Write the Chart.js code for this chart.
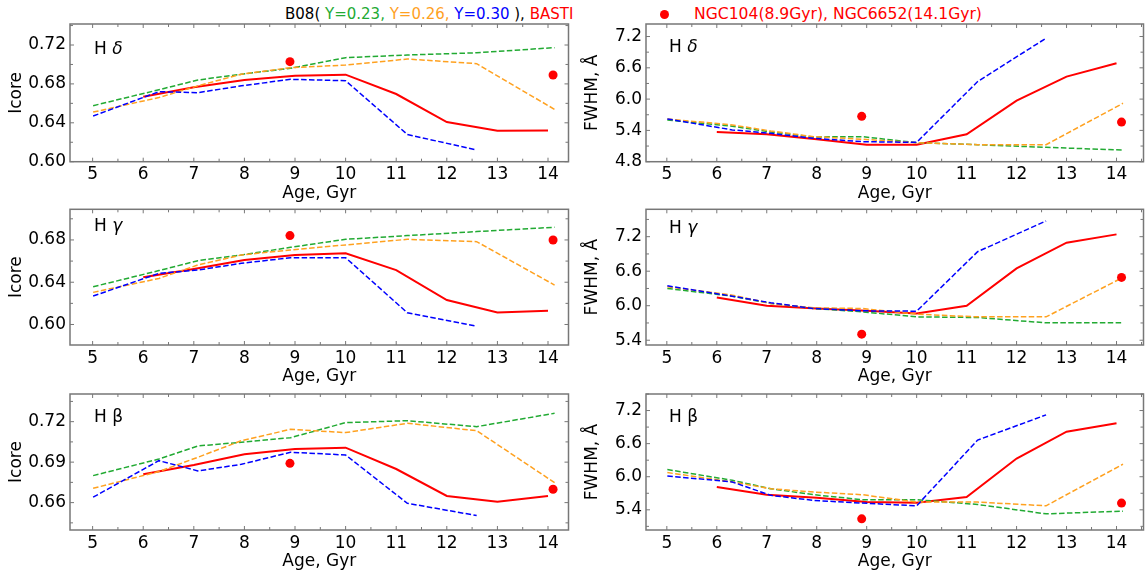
<!DOCTYPE html>
<html>
<head>
<meta charset="utf-8">
<script src="https://cdn.jsdelivr.net/npm/chart.js@4.4.0/dist/chart.umd.min.js"></script>
<style>
body { margin: 0; background: #fff; width: 1148px; height: 574px; overflow: hidden; position: relative; font-family: "DejaVu Sans", sans-serif; }
canvas { position: absolute; }
.cab { position: absolute; top: 5px; font-size: 15px; line-height: 18px; white-space: pre; }
#punto { position: absolute; left: 659.5px; top: 9.5px; width: 9px; height: 9px; border-radius: 50%; background: #ff0000; }
</style>
</head>
<body>
<div class="cab" style="left:285px">B08( <span style="color:#22aa33">Y=0.23, </span><span style="color:#ffa11f">Y=0.26, </span><span style="color:#0000ff">Y=0.30</span> ), <span style="color:#ff0000">BASTI</span></div>
<div id="punto"></div>
<div class="cab" style="left:694px;top:4.5px;font-size:15.6px;color:#ff0000">NGC104(8.9Gyr), NGC6652(14.1Gyr)</div>
<script>
// edades (Gyr)
const edadB08 = [5.01, 6.31, 7.08, 7.94, 8.91, 10.0, 11.22, 12.59, 14.13];
const edadBasti = [6, 7, 8, 9, 10, 11, 12, 13, 14];
const edadGC = [8.9, 14.1];
const edadTicks = [5, 6, 7, 8, 9, 10, 11, 12, 13, 14];

// Icore H delta
const icoreHdY023 = [0.6576, 0.674, 0.684, 0.690, 0.696, 0.707, 0.7097, 0.712, 0.7173];
const icoreHdY026 = [0.651, 0.666, 0.678, 0.690, 0.6967, 0.6994, 0.7056, 0.7008, 0.6538];
const icoreHdY030 = [0.647, 0.672, 0.671, 0.678, 0.6847, 0.6833, 0.628, 0.612];
const icoreHdBasti = [0.6669, 0.6765, 0.684, 0.6885, 0.6895, 0.6696, 0.6408, 0.6319, 0.6322];
const icoreHdGC = [0.7029, 0.6891];

// FWHM H delta
const fwhmHdY023 = [5.60, 5.48, 5.37, 5.274, 5.28, 5.165, 5.126, 5.075, 5.024];
const fwhmHdY026 = [5.62, 5.504, 5.389, 5.28, 5.23, 5.165, 5.126, 5.126, 5.92];
const fwhmHdY030 = [5.62, 5.41, 5.344, 5.248, 5.184, 5.171, 6.336, 7.168];
const fwhmHdBasti = [5.37, 5.325, 5.229, 5.126, 5.126, 5.325, 5.971, 6.432, 6.688];
const fwhmHdGC = [5.67, 5.56];

// Icore H gamma
const icoreHgY023 = [0.6357, 0.651, 0.6604, 0.6658, 0.673, 0.6806, 0.6841, 0.6879, 0.692];
const icoreHgY026 = [0.6304, 0.6436, 0.6563, 0.6658, 0.6705, 0.6753, 0.6806, 0.6784, 0.6373];
const icoreHgY030 = [0.6269, 0.6484, 0.6515, 0.6579, 0.6632, 0.6632, 0.6111, 0.5984];
const icoreHgBasti = [0.6446, 0.6525, 0.661, 0.6658, 0.6674, 0.6515, 0.6231, 0.6114, 0.613];
const icoreHgGC = [0.6841, 0.680];

// FWHM H gamma
const fwhmHgY023 = [6.30, 6.166, 6.04, 5.952, 5.894, 5.806, 5.795, 5.702, 5.702];
const fwhmHgY026 = [6.329, 6.184, 6.039, 5.963, 5.952, 5.853, 5.806, 5.806, 6.492];
const fwhmHgY030 = [6.346, 6.166, 6.05, 5.952, 5.911, 5.905, 6.939, 7.473];
const fwhmHgBasti = [6.143, 5.998, 5.952, 5.911, 5.865, 5.998, 6.648, 7.095, 7.24];
const fwhmHgGC = [5.505, 6.492];

// Icore H beta
const icoreHbY023 = [0.680, 0.6923, 0.702, 0.7047, 0.7081, 0.7193, 0.7207, 0.7163, 0.7262];
const icoreHbY026 = [0.6706, 0.683, 0.6936, 0.7059, 0.7143, 0.7119, 0.7188, 0.7133, 0.6748];
const icoreHbY030 = [0.664, 0.6911, 0.6835, 0.6884, 0.6973, 0.6953, 0.6595, 0.6504];
const icoreHbBasti = [0.681, 0.6879, 0.6958, 0.6998, 0.7007, 0.6849, 0.6649, 0.6607, 0.6649];
const icoreHbGC = [0.6891, 0.6699];

// FWHM H beta
const fwhmHbY023 = [6.13, 5.935, 5.783, 5.674, 5.583, 5.583, 5.497, 5.327, 5.376];
const fwhmHbY026 = [6.075, 5.905, 5.783, 5.722, 5.674, 5.54, 5.54, 5.473, 6.227];
const fwhmHbY030 = [6.014, 5.905, 5.662, 5.57, 5.522, 5.473, 6.665, 7.121];
const fwhmHbBasti = [5.814, 5.674, 5.619, 5.54, 5.528, 5.631, 6.33, 6.817, 6.969];
const fwhmHbGC = [5.236, 5.522];

// marcas de los ejes y
const ticksIcoreHd = [0.60, 0.64, 0.68, 0.72];
const ticksIcoreHg = [0.60, 0.64, 0.68];
const ticksIcoreHb = [0.66, 0.69, 0.72];
const ticksFwhmHd = [4.8, 5.4, 6.0, 6.6, 7.2];
const ticksFwhmHg = [5.4, 6.0, 6.6, 7.2];
const ticksFwhmHb = [5.4, 6.0, 6.6, 7.2];

const FUENTE = '"DejaVu Sans", sans-serif';
const VERDE = '#22aa33', NARANJA = '#ffa11f', AZUL = '#0000ff', ROJO = '#ff0000';
const GRIS = '#777777';

const columnas = [
    { left: 0, width: 580, plotL: 70, plotR: 568.5, xr: [4.553, 14.405], titPad: 6.5, etiqueta: 'Icore' },
    { left: 580, width: 568, plotL: 646, plotR: 1147, xr: [4.583, 14.54], titPad: 2.5, etiqueta: 'FWHM, Å' }
];
const filas = [
    { top: 24, bottom: 161.7 },
    { top: 209.3, bottom: 345 },
    { top: 394, bottom: 530 }
];

const paneles = [
    { fila: 0, col: 0, letra: 'δ', ital: true, series: [icoreHdY023, icoreHdY026, icoreHdY030, icoreHdBasti, icoreHdGC], yr: [0.600, 0.7416], ticks: ticksIcoreHd, menor: 0.02, dec: 2, txt: [94, 54] },
    { fila: 0, col: 1, letra: 'δ', ital: true, series: [fwhmHdY023, fwhmHdY026, fwhmHdY030, fwhmHdBasti, fwhmHdGC], yr: [4.8, 7.44], ticks: ticksFwhmHd, menor: 0.3, dec: 1, txt: [669, 51.7] },
    { fila: 1, col: 0, letra: 'γ', ital: true, series: [icoreHgY023, icoreHgY026, icoreHgY030, icoreHgBasti, icoreHgGC], yr: [0.5806, 0.709], ticks: ticksIcoreHg, menor: 0.02, dec: 2, txt: [94, 230.7] },
    { fila: 1, col: 1, letra: 'γ', ital: true, series: [fwhmHgY023, fwhmHgY026, fwhmHgY030, fwhmHgBasti, fwhmHgGC], yr: [5.317, 7.676], ticks: ticksFwhmHg, menor: 0.3, dec: 1, txt: [669, 232.7] },
    { fila: 2, col: 0, letra: 'β', ital: false, series: [icoreHbY023, icoreHbY026, icoreHbY030, icoreHbBasti, icoreHbGC], yr: [0.6397, 0.7405], ticks: ticksIcoreHb, menor: 0.015, dec: 2, txt: [94, 421.7] },
    { fila: 2, col: 1, letra: 'β', ital: false, series: [fwhmHbY023, fwhmHbY026, fwhmHbY030, fwhmHbBasti, fwhmHbGC], yr: [5.034, 7.50], ticks: ticksFwhmHb, menor: 0.3, dec: 1, txt: [669, 421.7] }
];

function pares(xs, ys) {
    return ys.map((y, k) => ({ x: xs[k], y: y }));
}

// marco, marcas hacia dentro en los cuatro lados y nombre de la linea
function hacerMarcas(p, dx, dy) {
    return {
        id: 'marcas',
        afterDraw(chart) {
            const ctx = chart.ctx;
            const a = chart.chartArea;
            const sx = chart.scales.x, sy = chart.scales.y;
            ctx.save();
            ctx.strokeStyle = GRIS;
            ctx.lineWidth = 1;
            const raya = (x1, y1, x2, y2) => { ctx.beginPath(); ctx.moveTo(x1, y1); ctx.lineTo(x2, y2); ctx.stroke(); };
            for (let k = Math.ceil(sx.min / 0.5 - 1e-6); k * 0.5 <= sx.max + 1e-6; k++) {
                const px = sx.getPixelForValue(k * 0.5);
                const l = k % 2 === 0 ? 4 : 3;
                raya(px, a.bottom, px, a.bottom - l);
                raya(px, a.top, px, a.top + l);
            }
            const paso = p.menor;
            for (let k = Math.ceil(sy.min / paso - 1e-6); k * paso <= sy.max + 1e-6; k++) {
                const v = k * paso;
                const py = sy.getPixelForValue(v);
                const esMayor = p.ticks.some(t => Math.abs(t - v) < paso / 10);
                const l = esMayor ? 4 : 3;
                raya(a.left, py, a.left + l, py);
                raya(a.right, py, a.right - l, py);
            }
            ctx.lineWidth = 1.5;
            ctx.strokeRect(a.left, a.top, a.right - a.left, a.bottom - a.top);

            ctx.fillStyle = '#000';
            ctx.textBaseline = 'alphabetic';
            ctx.font = '17px ' + FUENTE;
            const x0 = p.txt[0] - dx, y0 = p.txt[1] - dy;
            ctx.fillText('H ', x0, y0);
            const w = ctx.measureText('H ').width;
            ctx.font = (p.ital ? 'italic ' : '') + '17px ' + FUENTE;
            ctx.fillText(p.letra, x0 + w, y0);
            ctx.restore();
        }
    };
}

paneles.forEach(p => {
    const c = columnas[p.col], f = filas[p.fila];
    const top = Math.floor(f.top) - 24;
    const alto = Math.ceil(f.bottom - top + 44);
    const altoX = alto - (f.bottom - top);
    const cv = document.createElement('canvas');
    cv.width = c.width;
    cv.height = alto;
    cv.style.left = c.left + 'px';
    cv.style.top = top + 'px';
    document.body.appendChild(cv);

    const [g, o, b, r, pts] = p.series;
    const discontinua = { borderWidth: 1.5, borderDash: [5.5, 2.4], pointRadius: 0, fill: false };

    new Chart(cv, {
        type: 'line',
        data: {
            datasets: [
                { data: pares(edadGC, pts), showLine: false, pointRadius: 4.5, pointBackgroundColor: ROJO, pointBorderWidth: 0, borderColor: ROJO },
                Object.assign({ data: pares(edadB08, b), borderColor: AZUL }, discontinua),
                Object.assign({ data: pares(edadB08, o), borderColor: NARANJA }, discontinua),
                Object.assign({ data: pares(edadB08, g), borderColor: VERDE }, discontinua),
                { data: pares(edadBasti, r), borderColor: ROJO, borderWidth: 2, pointRadius: 0, fill: false }
            ]
        },
        options: {
            responsive: false,
            animation: false,
            events: [],
            layout: { padding: { top: f.top - top, right: c.left + c.width - c.plotR, left: 0, bottom: 0 } },
            plugins: { legend: { display: false }, tooltip: { enabled: false } },
            scales: {
                x: {
                    type: 'linear',
                    min: c.xr[0], max: c.xr[1],
                    grid: { display: false, drawTicks: false },
                    border: { display: false },
                    afterBuildTicks: s => { s.ticks = edadTicks.map(v => ({ value: v })); },
                    afterFit: s => { s.height = altoX; },
                    ticks: { font: { family: FUENTE, size: 17 }, color: '#000', padding: 3, autoSkip: false, maxRotation: 0, callback: v => String(v) },
                    title: { display: true, text: 'Age, Gyr', color: '#000', font: { family: FUENTE, size: 17 }, padding: { top: 0, bottom: altoX - 10.2 - 31.7 } }
                },
                y: {
                    type: 'linear',
                    min: p.yr[0], max: p.yr[1],
                    grid: { display: false, drawTicks: false },
                    border: { display: false },
                    afterBuildTicks: s => { s.ticks = p.ticks.map(v => ({ value: v })); },
                    afterFit: s => { s.width = c.plotL - c.left; },
                    ticks: { font: { family: FUENTE, size: 17 }, color: '#000', padding: 4, callback: v => Number(v).toFixed(p.dec) },
                    title: { display: true, text: c.etiqueta, color: '#000', font: { family: FUENTE, size: 17 }, padding: { top: c.titPad, bottom: 0 } }
                }
            }
        },
        plugins: [hacerMarcas(p, c.left, top)]
    });
});
</script>
</body>
</html>
